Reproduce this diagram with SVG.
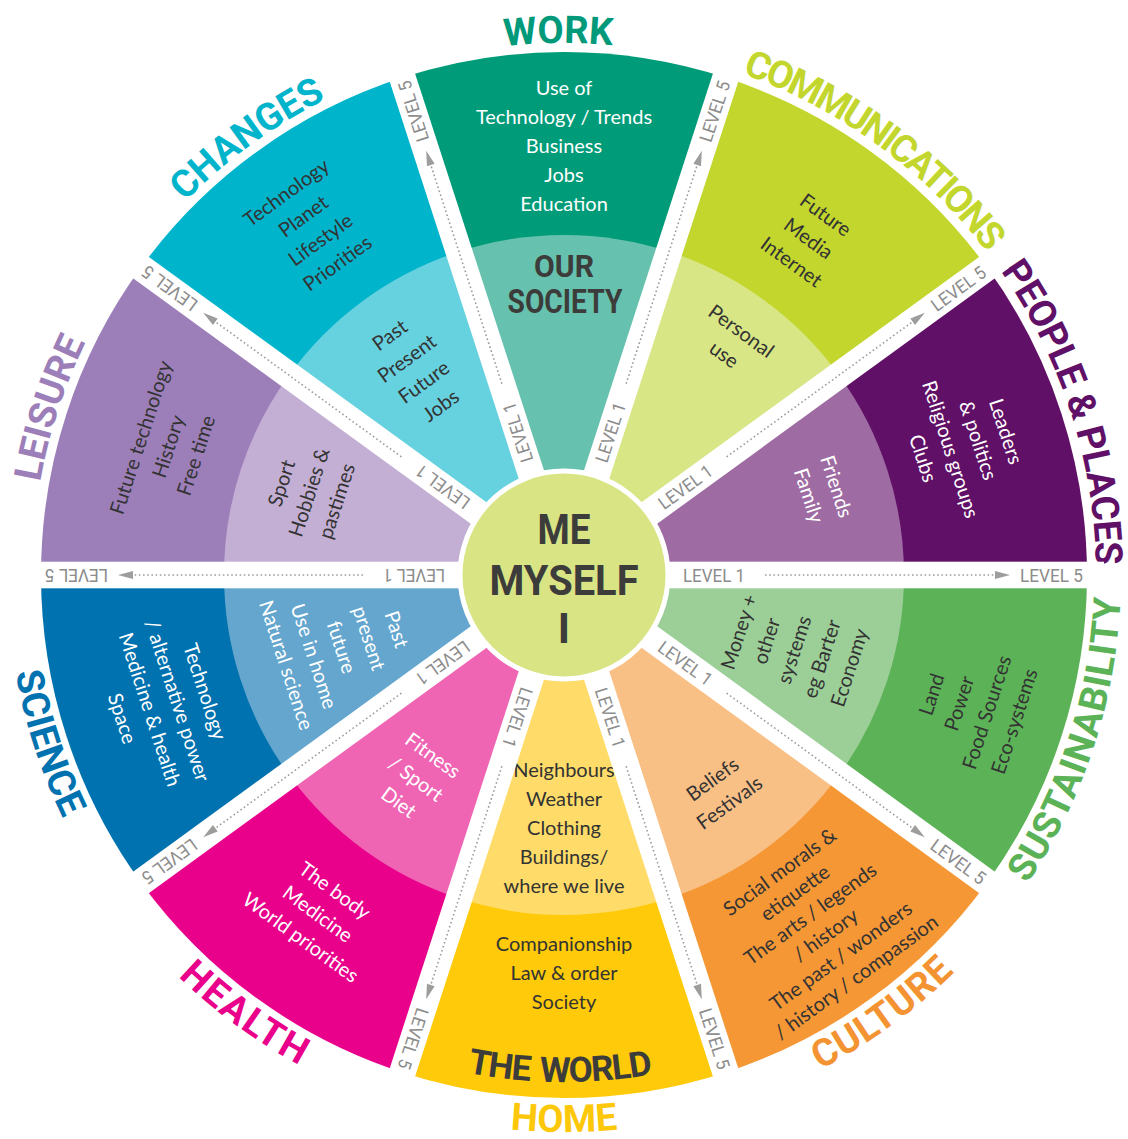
<svg xmlns="http://www.w3.org/2000/svg" xmlns:xlink="http://www.w3.org/1999/xlink" width="1128" height="1139" viewBox="0 0 1128 1139">
<style>
.t{font-family:Lato,"Open Sans","Liberation Sans",sans-serif;font-size:20px;text-anchor:middle}
.w{fill:#ffffff}
.d{fill:#333333}
.lab{font-family:Roboto,"Liberation Sans",sans-serif;font-weight:700;font-size:38px;text-anchor:middle}
.h{font-family:Roboto,"Liberation Sans",sans-serif;font-weight:700;fill:#3c3c3b;text-anchor:middle}
.lv{font-family:Roboto,"Liberation Sans",sans-serif;font-size:18px;fill:#8c8c8c}
.dot{stroke:#9d9d9c;stroke-width:1.6;stroke-dasharray:1.6 2.6;fill:none}
.ah{fill:#9d9d9c}
</style>
<defs>
<path id="sO" d="M564 575 L1061.40 413.38 A523 523 0 0 1 1061.40 736.62 Z"/>
<path id="sI" d="M564 575 L887.36 469.93 A340 340 0 0 1 887.36 680.07 Z"/>
<path id="upArc" d="M156.46 233.04 A532 532 0 0 1 971.54 233.04"/>
<path id="loArc" d="M137.31 933.03 A557 557 0 0 0 990.69 933.03"/>
<path id="worldArc" d="M175.61 900.90 A507 507 0 0 0 952.39 900.90"/>
<g id="chan">
<rect x="564" y="561.7" width="540" height="26.6" fill="#ffffff"/>
</g>
<g id="lvl">
<text class="lv" x="683" y="581.5" textLength="62" lengthAdjust="spacingAndGlyphs">LEVEL 1</text>
<line class="dot" x1="765" y1="575" x2="996" y2="575"/>
<polygon class="ah" points="995,571 1010,575 995,579"/>
<text class="lv" x="1020" y="581.5" textLength="63" lengthAdjust="spacingAndGlyphs">LEVEL 5</text>
</g>
</defs>

<g id="work">
<use href="#sO" transform="rotate(-90 564 575)" fill="#009b78"/>
<use href="#sI" transform="rotate(-90 564 575)" fill="#66c2ae"/>
<text class="t w" transform="rotate(-90 564 575) translate(993 575) rotate(90)"><tspan x="0" y="-51">Use of</tspan><tspan x="0" y="-22">Technology / Trends</tspan><tspan x="0" y="7">Business</tspan><tspan x="0" y="36">Jobs</tspan><tspan x="0" y="65">Education</tspan></text>
<text class="h" x="564" y="277" font-size="32" textLength="60" lengthAdjust="spacingAndGlyphs">OUR</text>
<text class="h" x="565" y="313" font-size="34" textLength="115" lengthAdjust="spacingAndGlyphs">SOCIETY</text>
<text class="lab" fill="#00997a" transform="rotate(-0.6 564 575)"><textPath href="#upArc" startOffset="50%">WORK</textPath></text>
</g>

<g id="communications">
<use href="#sO" transform="rotate(-54 564 575)" fill="#c3d62e"/>
<use href="#sI" transform="rotate(-54 564 575)" fill="#d9e685"/>
<text class="t d" transform="rotate(-54 564 575) translate(980 575) rotate(90)"><tspan x="0" y="-22">Future</tspan><tspan x="0" y="7">Media</tspan><tspan x="0" y="36">Internet</tspan></text>
<text class="t d" transform="rotate(-54 564 575) translate(851 575) rotate(90)"><tspan x="0" y="-7.5">Personal</tspan><tspan x="0" y="21.5">use</tspan></text>
<text class="lab" fill="#c3d62e" letter-spacing="-2.5" transform="rotate(36 564 575)"><textPath href="#upArc" startOffset="50%">COMMUNICATIONS</textPath></text>
</g>

<g id="people-places">
<use href="#sO" transform="rotate(-18 564 575)" fill="#601066"/>
<use href="#sI" transform="rotate(-18 564 575)" fill="#9e6ca3"/>
<text class="t w" transform="rotate(-18 564 575) translate(985 575) rotate(90)"><tspan x="0" y="-36.5">Leaders</tspan><tspan x="0" y="-7.5">&amp; politics</tspan><tspan x="0" y="21.5">Religious groups</tspan><tspan x="0" y="50.5">Clubs</tspan></text>
<text class="t w" transform="rotate(-18 564 575) translate(836 575) rotate(90)"><tspan x="0" y="-7.5">Friends</tspan><tspan x="0" y="21.5">Family</tspan></text>
<text class="lab" fill="#601066" font-size="37" letter-spacing="-0.6" transform="rotate(72 564 575)"><textPath href="#upArc" startOffset="50%">PEOPLE &amp; PLACES</textPath></text>
</g>

<g id="sustainability">
<use href="#sO" transform="rotate(18 564 575)" fill="#5cb256"/>
<use href="#sI" transform="rotate(18 564 575)" fill="#9ccf98"/>
<text class="t d" transform="rotate(18 564 575) translate(994 575) rotate(-90)"><tspan x="0" y="-36.5">Land</tspan><tspan x="0" y="-7.5">Power</tspan><tspan x="0" y="21.5">Food Sources</tspan><tspan x="0" y="50.5">Eco-systems</tspan></text>
<text class="t d" transform="rotate(18 564 575) translate(806 575) rotate(-90)"><tspan x="0" y="-51">Money +</tspan><tspan x="0" y="-22">other</tspan><tspan x="0" y="7">systems</tspan><tspan x="0" y="36">eg Barter</tspan><tspan x="0" y="65">Economy</tspan></text>
<text class="lab" fill="#5cb256" letter-spacing="0.6" transform="rotate(-72 564 575)"><textPath href="#loArc" startOffset="50%">SUSTAINABILITY</textPath></text>
</g>

<g id="culture">
<use href="#sO" transform="rotate(54 564 575)" fill="#f59735"/>
<use href="#sI" transform="rotate(54 564 575)" fill="#f9c086"/>
<text class="t d" transform="rotate(54 564 575) translate(996 575) rotate(-90)"><tspan x="0" y="-58">Social morals &amp;</tspan><tspan x="0" y="-32">etiquette</tspan><tspan x="0" y="-6">The arts / legends</tspan><tspan x="0" y="20">/ history</tspan><tspan x="0" y="46">The past / wonders</tspan><tspan x="0" y="72">/ history / compassion</tspan></text>
<text class="t d" transform="rotate(54 564 575) translate(831 575) rotate(-90)"><tspan x="0" y="-7.5">Beliefs</tspan><tspan x="0" y="21.5">Festivals</tspan></text>
<text class="lab" fill="#f39331" letter-spacing="1" transform="rotate(-36 564 575)"><textPath href="#loArc" startOffset="50%">CULTURE</textPath></text>
</g>

<g id="home">
<use href="#sO" transform="rotate(90 564 575)" fill="#feca0a"/>
<use href="#sI" transform="rotate(90 564 575)" fill="#ffdc69"/>
<text class="t d" transform="rotate(90 564 575) translate(962 575) rotate(-90)"><tspan x="0" y="-22">Companionship</tspan><tspan x="0" y="7">Law &amp; order</tspan><tspan x="0" y="36">Society</tspan></text>
<text class="t d" transform="rotate(90 564 575) translate(817 575) rotate(-90)"><tspan x="0" y="-51">Neighbours</tspan><tspan x="0" y="-22">Weather</tspan><tspan x="0" y="7">Clothing</tspan><tspan x="0" y="36">Buildings/</tspan><tspan x="0" y="65">where we live</tspan></text>
<text class="h" font-size="35" letter-spacing="-1.2" word-spacing="3" transform="rotate(0.5 564 575)"><textPath href="#worldArc" startOffset="50%">THE WORLD</textPath></text>
<text class="lab" fill="#fdc80a"><textPath href="#loArc" startOffset="50%">HOME</textPath></text>
</g>

<g id="health">
<use href="#sO" transform="rotate(126 564 575)" fill="#e9008b"/>
<use href="#sI" transform="rotate(126 564 575)" fill="#f064b4"/>
<text class="t w" transform="rotate(126 564 575) translate(983 575) rotate(-90)"><tspan x="0" y="-22">The body</tspan><tspan x="0" y="7">Medicine</tspan><tspan x="0" y="36">World priorities</tspan></text>
<text class="t w" transform="rotate(126 564 575) translate(816 575) rotate(-90)"><tspan x="0" y="-22">Fitness</tspan><tspan x="0" y="7">/ Sport</tspan><tspan x="0" y="36">Diet</tspan></text>
<text class="lab" fill="#e9008b" letter-spacing="2" transform="rotate(36 564 575)"><textPath href="#loArc" startOffset="50%">HEALTH</textPath></text>
</g>

<g id="science">
<use href="#sO" transform="rotate(162 564 575)" fill="#0072af"/>
<use href="#sI" transform="rotate(162 564 575)" fill="#64a6ce"/>
<text class="t w" transform="rotate(162 564 575) translate(985 575) rotate(-90)"><tspan x="0" y="-36.5">Technology</tspan><tspan x="0" y="-7.5">/ alternative power</tspan><tspan x="0" y="21.5">Medicine &amp; health</tspan><tspan x="0" y="50.5">Space</tspan></text>
<text class="t w" transform="rotate(162 564 575) translate(798 575) rotate(-90)"><tspan x="0" y="-51">Past</tspan><tspan x="0" y="-22">present</tspan><tspan x="0" y="7">future</tspan><tspan x="0" y="36">Use in home</tspan><tspan x="0" y="65">Natural science</tspan></text>
<text class="lab" fill="#0072af" transform="rotate(72 564 575)"><textPath href="#loArc" startOffset="50%">SCIENCE</textPath></text>
</g>

<g id="leisure">
<use href="#sO" transform="rotate(198 564 575)" fill="#9c7eb8"/>
<use href="#sI" transform="rotate(198 564 575)" fill="#c4afd4"/>
<text class="t d" transform="rotate(198 564 575) translate(980 575) rotate(90)"><tspan x="0" y="-22">Future technology</tspan><tspan x="0" y="7">History</tspan><tspan x="0" y="36">Free time</tspan></text>
<text class="t d" transform="rotate(198 564 575) translate(832 575) rotate(90)"><tspan x="0" y="-22">Sport</tspan><tspan x="0" y="7">Hobbies &amp;</tspan><tspan x="0" y="36">pastimes</tspan></text>
<text class="lab" fill="#9c7eb8" transform="rotate(-72 564 575)"><textPath href="#upArc" startOffset="50%">LEISURE</textPath></text>
</g>

<g id="changes">
<use href="#sO" transform="rotate(234 564 575)" fill="#00b4cc"/>
<use href="#sI" transform="rotate(234 564 575)" fill="#66d1df"/>
<text class="t d" transform="rotate(234 564 575) translate(993 575) rotate(90)"><tspan x="0" y="-36.5">Technology</tspan><tspan x="0" y="-7.5">Planet</tspan><tspan x="0" y="21.5">Lifestyle</tspan><tspan x="0" y="50.5">Priorities</tspan></text>
<text class="t d" transform="rotate(234 564 575) translate(817 575) rotate(90)"><tspan x="0" y="-36.5">Past</tspan><tspan x="0" y="-7.5">Present</tspan><tspan x="0" y="21.5">Future</tspan><tspan x="0" y="50.5">Jobs</tspan></text>
<text class="lab" fill="#00b4cc" transform="rotate(-36 564 575)"><textPath href="#upArc" startOffset="50%">CHANGES</textPath></text>
</g>

<g id="connectors">
<use href="#chan" transform="rotate(0 564 575)"/>
<use href="#chan" transform="rotate(36 564 575)"/>
<use href="#chan" transform="rotate(72 564 575)"/>
<use href="#chan" transform="rotate(108 564 575)"/>
<use href="#chan" transform="rotate(144 564 575)"/>
<use href="#chan" transform="rotate(180 564 575)"/>
<use href="#chan" transform="rotate(216 564 575)"/>
<use href="#chan" transform="rotate(252 564 575)"/>
<use href="#chan" transform="rotate(288 564 575)"/>
<use href="#chan" transform="rotate(324 564 575)"/>
<use href="#lvl" transform="rotate(0 564 575)"/>
<use href="#lvl" transform="rotate(36 564 575)"/>
<use href="#lvl" transform="rotate(72 564 575)"/>
<use href="#lvl" transform="rotate(108 564 575)"/>
<use href="#lvl" transform="rotate(144 564 575)"/>
<use href="#lvl" transform="rotate(180 564 575)"/>
<use href="#lvl" transform="rotate(216 564 575)"/>
<use href="#lvl" transform="rotate(252 564 575)"/>
<use href="#lvl" transform="rotate(288 564 575)"/>
<use href="#lvl" transform="rotate(324 564 575)"/>
</g>

<g id="me-myself-i">
<circle cx="564" cy="575" r="104" fill="#d9e485" stroke="#ffffff" stroke-width="5"/>
<text class="h" x="564" y="544" font-size="42" textLength="53" lengthAdjust="spacingAndGlyphs">ME</text>
<text class="h" x="564" y="595" font-size="42" textLength="149" lengthAdjust="spacingAndGlyphs">MYSELF</text>
<text class="h" x="564" y="643" font-size="42">I</text>
</g>
</svg>
